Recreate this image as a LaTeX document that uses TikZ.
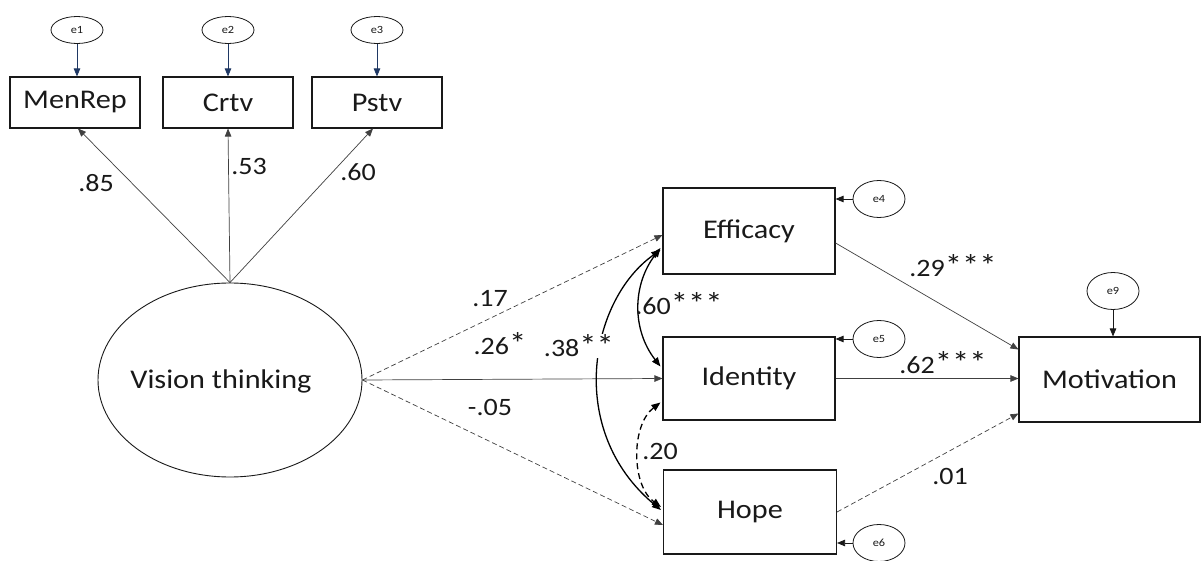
\documentclass[tikz,border=0pt]{standalone}
\usepackage{fontspec}
\setmainfont{Carlito}[FakeStretch=1.12]
\usetikzlibrary{arrows.meta,shapes.geometric,calc}
\definecolor{navyline}{RGB}{31,56,100}
\definecolor{ink}{RGB}{25,25,25}
% significance star, set larger than the digits as in the source layout
\newcommand\sigstar{{\fontsize{31}{31}\selectfont *}}
\begin{document}
\begin{tikzpicture}[x=1pt,y=-1pt,
  var/.style={draw=ink, line width=1.1pt, inner sep=0pt, text=ink,
    font=\fontsize{27}{31}\selectfont},
  latent/.style={var, ellipse, line width=0.9pt},
  err/.style={ellipse, draw=ink, line width=0.8pt, inner sep=0pt,
    minimum width=52pt, text=ink, font=\fontsize{11}{13}\selectfont},
  coef/.style={inner sep=1pt, text=ink, font=\fontsize{25}{29}\selectfont},
  head/.style={-{Triangle[length=8pt,width=6.5pt]}},
  reg/.style={head, draw=black!75, line width=0.7pt},
  regdash/.style={reg, dash pattern=on 5pt off 3pt},
  errarr/.style={head, draw=ink, line width=0.8pt},
  cov/.style={{Triangle[length=9pt,width=7pt]}-{Triangle[length=9pt,width=7pt]},
    line width=1.3pt, draw=black},
  covdash/.style={cov, dash pattern=on 6pt off 4pt}]
\useasboundingbox (0,0) rectangle (1203,561);

% indicators of the latent factor
\node[var, minimum width=130pt, minimum height=51pt] (MR) at (75,102.5) {MenRep};
\node[var, minimum width=130pt, minimum height=51pt] (CR) at (228,102.5) {Crtv};
\node[var, minimum width=130pt, minimum height=51pt] (PS) at (377,102.5) {Pstv};
\node[err, minimum height=27pt] (e1) at (77,30) {e1};
\node[err, minimum height=27pt] (e2) at (228,30) {e2};
\node[err, minimum height=27pt] (e3) at (377,30) {e3};

% latent factor (its caption sits a little left of centre)
\node[latent, minimum width=264pt, minimum height=194pt] (VT) at (230,380) {};
\node[inner sep=0pt, text=ink, font=\fontsize{27}{31}\selectfont] (VTtext) at (221,381) {Vision thinking};

% mediators and outcome
\node[var, minimum width=172pt, minimum height=86pt] (EF) at (749,231) {Efficacy};
\node[var, minimum width=172pt, minimum height=83pt] (ID) at (749,378.5) {Identity};
\node[var, minimum width=173pt, minimum height=84pt] (HO) at (750,512) {Hope};
\node[var, minimum width=181pt, minimum height=85pt] (MO) at (1109.5,379.5) {Motivation};

\node[err, minimum height=37pt] (e4) at (879,199) {e4};
\node[err, minimum height=37pt] (e5) at (879,339) {e5};
\node[err, minimum height=37pt] (e6) at (879,543) {e6};
\node[err, minimum height=37pt] (e9) at (1113,291) {e9};

% error terms
\draw[errarr, draw=navyline] (e1.south) -- (e1.south |- MR.north);
\draw[errarr, draw=navyline] (e2.south) -- (e2.south |- CR.north);
\draw[errarr, draw=navyline] (e3.south) -- (e3.south |- PS.north);
\draw[errarr] (e4.west) -- (e4.west -| EF.east);
\draw[errarr] (e5.west) -- (e5.west -| ID.east);
\draw[errarr] (e6.west) -- (e6.west -| HO.east);
\draw[errarr] (e9.south) -- (e9.south |- MO.north);

% loadings
\draw[reg] (VT.north) -- ($(MR.south)+(3,0)$);
\draw[reg] (VT.north) -- (CR.south);
\draw[reg] (VT.north) -- ($(PS.south)+(-4,0)$);

% structural paths
\draw[regdash] (VT.east) -- ($(EF.west)+(0,4)$);
\draw[reg] (VT.east) -- (ID.west);
\draw[regdash] (VT.east) -- ($(HO.west)+(0,13)$);
\draw[reg] ($(EF.east)+(0,12)$) -- ($(MO.west)+(0,-30)$);
\draw[reg] (ID.east) -- (ID.east -| MO.west);
\draw[regdash] (HO.east) -- ($(MO.west)+(0,34)$);

% residual covariances
\draw[cov] ($(EF.west)+(-2,17)$) .. controls (632,285) and (632,330) .. ($(ID.west)+(-2,-12)$);
\draw[cov] ($(EF.west)+(-2,19)$) .. controls (590,300) and (565,430) .. ($(HO.west)+(-2,-2)$);
\draw[covdash] ($(ID.west)+(-2,24)$) .. controls (631,425) and (631,485) .. ($(HO.west)+(-2,-5)$);

% coefficients
\node[coef] (c1) at (96,183) {.85};
\node[coef] (c2) at (249,166) {.53};
\node[coef] (c3) at (358,172) {.60};
\node[coef] (c4) at (490,299) {.17};
\node[coef] (c5) at (500,344) {.26\sigstar};
\node[coef] (c6) at (490,407) {-.05};
\node[coef, fill=white] (c7) at (579,346) {.38\sigstar\sigstar};
\node[coef] (c8) at (679,304) {.60\sigstar\sigstar\sigstar};
\node[coef] (c9) at (660,451) {.20};
\node[coef] (c10) at (953,266) {.29\sigstar\sigstar\sigstar};
\node[coef] (c11) at (943,363) {.62\sigstar\sigstar\sigstar};
\node[coef] (c12) at (950,476) {.01};
\end{tikzpicture}
\end{document}
